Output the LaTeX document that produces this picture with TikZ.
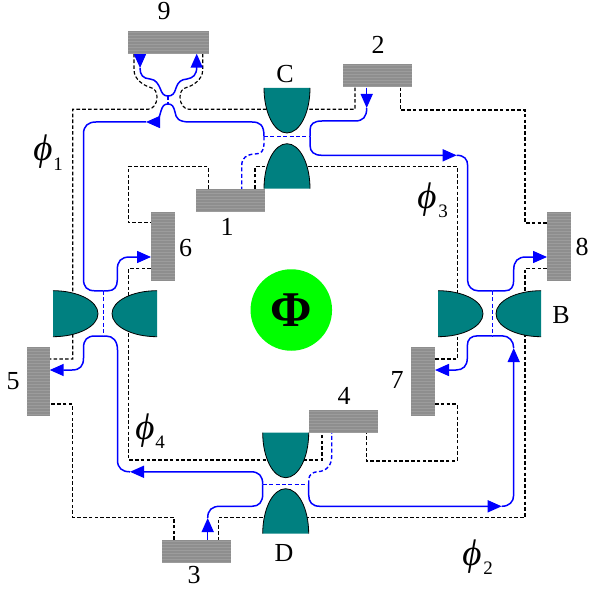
\documentclass[tikz,border=0pt]{standalone}
\usepackage{fontspec}
\setmainfont{Liberation Serif}
\usetikzlibrary{arrows.meta}
\definecolor{tealc}{HTML}{008080}
\definecolor{bluec}{HTML}{0000FF}
\definecolor{grayb}{HTML}{8E8E8E}
\definecolor{grays}{HTML}{9C9C9C}
\tikzset{
  ctrlline/.style={black,line width=1.15pt,dash pattern=on 3.6pt off 2.2pt},
  guide/.style={bluec,line width=1.5pt},
  guidedash/.style={bluec,line width=1.4pt,dash pattern=on 4pt off 2.4pt},
  guidearrow/.style={guide,-{Triangle[length=14pt,width=12pt]}},
  stripebox/.style={draw=none,fill=grayb,inner sep=0pt,outer sep=0pt,
    path picture={\foreach \k in {1.5,4.5,...,70.5}{
      \draw[grays,line width=1pt] ([yshift=-\k pt]path picture bounding box.north west) -- ([yshift=-\k pt]path picture bounding box.north east);}}},
  hbox/.style={stripebox,minimum width=69pt,minimum height=23pt},
  vbox/.style={stripebox,minimum width=23.5pt,minimum height=69pt},
  lab/.style={inner sep=0pt,font=\fontsize{26}{26}\selectfont},
  phisym/.style={inner sep=0pt,font=\fontsize{37}{37}\selectfont\itshape},
  phisub/.style={inner sep=0pt,font=\fontsize{19}{19}\selectfont},
  bowl/.pic={
    \fill[tealc] (-23,0) .. controls (-23,25) and (-12.7,45) .. (0,45) .. controls (12.7,45) and (23,25) .. (23,0) -- cycle;
    \draw[black,line width=0.8pt] (-23,0) .. controls (-23,25) and (-12.7,45) .. (0,45) .. controls (12.7,45) and (23,25) .. (23,0);
  }
}
\begin{document}
\begin{tikzpicture}[x=1pt,y=-1pt]
\useasboundingbox (0,0) rectangle (589,593);

% control lines (beneath the teal electrodes)
\coordinate (p9a) at (134,53.7);
\coordinate (p9b) at (202.7,53.7);
\coordinate (p2a) at (355,87.7);
\coordinate (p2b) at (400.3,87.7);
\coordinate (p8a) at (547,223);
\coordinate (p8b) at (547,268.3);
\coordinate (p1a) at (208.3,189);
\coordinate (p1b) at (255,189);
\coordinate (p6a) at (151,222.7);
\coordinate (p6b) at (151,268.3);
\coordinate (p5a) at (49.7,359);
\coordinate (p5b) at (49.7,404);
\coordinate (p7a) at (435,359);
\coordinate (p7b) at (435,404);
\coordinate (p4a) at (322,432.7);
\coordinate (p4b) at (366.5,432.7);
\coordinate (p3a) at (174,540);
\coordinate (p3b) at (218.3,540);

\draw[ctrlline] (p9a) -- (134,70) .. controls (134,80) and (145,86) .. (150,87.3) .. controls (155,88.5) and (157,92) .. (157,97) .. controls (157,104) and (153,109.3) .. (148,109.3) -- (72.8,109.3) -- (72.8,359) -- (p5a);
\draw[ctrlline] (p9b) -- (202.7,70) .. controls (202.7,80) and (192,86) .. (187,87.3) .. controls (182,88.5) and (180,92) .. (180,97) .. controls (180,104) and (184,109.3) .. (189,109.3) -- (355,109.3) -- (p2a);
\draw[ctrlline] (p2b) -- (400.3,110) -- (525,110) -- (525,223) -- (p8a);
\draw[ctrlline] (p8b) -- (525,268.3) -- (525,517.7) -- (218.3,517.7) -- (p3b);
\draw[ctrlline] (p3a) -- (174,517.3) -- (72.5,517.3) -- (72.5,404) -- (p5b);
\draw[ctrlline] (p1a) -- (208.3,166.7) -- (128.3,166.7) -- (128.3,222.7) -- (p6a);
\draw[ctrlline] (p1b) -- (255,166.7) -- (457.2,166.7) -- (457.2,359) -- (p7a);
\draw[ctrlline] (p7b) -- (457.2,404) -- (457.2,461) -- (366.5,461) -- (p4b);
\draw[ctrlline] (p6b) -- (128.6,268.3) -- (128.6,460) -- (322,460) -- (p4a);

% electrodes
\pic at (287,88) {bowl};
\pic[rotate=180] at (287,188.7) {bowl};
\pic at (285.7,432.7) {bowl};
\pic[rotate=180] at (285.7,533.7) {bowl};
\pic[rotate=90] at (53,313.7) {bowl};
\pic[rotate=-90] at (157,313.7) {bowl};
\pic[rotate=90] at (438,313.7) {bowl};
\pic[rotate=-90] at (541,313.7) {bowl};

% couplers
\coordinate (cL) at (264,136.4);
\coordinate (cR) at (310,136.4);
\coordinate (dL) at (262.7,484.3);
\coordinate (dR) at (308.7,484.3);
\coordinate (aT) at (103.3,290.8);
\coordinate (aB) at (103.3,336);
\coordinate (bT) at (492.7,290.8);
\coordinate (bB) at (492.7,335.8);
\coordinate (xT) at (168,96);
\coordinate (xB) at (168,104);
\draw[guidedash] (cL) -- (cR);
\draw[guidedash] (dL) -- (dR);
\draw[guidedash] (aT) -- (aB);
\draw[guidedash] (bT) -- (bB);
\draw[guidedash] (xT) -- (xB);

% dashed guides
\coordinate (p1c) at (241.7,189);
\coordinate (p4c) at (331.7,432.7);
\draw[guidedash] (cL) -- (264,144) .. controls (264,151) and (261,154) .. (255,154) .. controls (246,154.5) and (241.7,158) .. (241.7,166) -- (p1c);
\draw[guidedash] (dR) -- (308.7,479) .. controls (309.5,474) and (313,472) .. (318,471.7) .. controls (327,471) and (331.7,465) .. (331.7,456) -- (p4c);

% solid guides
\coordinate (p9c) at (140,53.7);
\coordinate (p9d) at (196.7,53.7);
\coordinate (t9c) at (140,68);
\coordinate (t9d) at (196.7,67);
\draw[guidearrow] (p9c) -- (t9c);
\draw[guidearrow] (t9d) -- (p9d);
\draw[guide] (t9c) .. controls (140,75) and (143,78.5) .. (150,79) .. controls (156,79.5) and (158,84) .. (160,88) .. controls (162,94) and (164,96) .. (xT) .. controls (172,96) and (174.5,94) .. (176,88) .. controls (178,82) and (181,79.5) .. (187,79) .. controls (193,78) and (196.7,75) .. (t9d);

\coordinate (tA) at (146,122);
\draw[guidearrow] (xB) .. controls (164,104) and (162.5,106) .. (161,111) .. controls (159.5,118) and (156,122) .. (tA);
\draw[guide] (xB) .. controls (172,104) and (173.5,106) .. (175,112) .. controls (176,118) and (178,122) .. (190,122) -- (252,122) .. controls (260,122) and (264,125) .. (cL);
\coordinate (p6c) at (151,257);
\draw[guide] (tA) -- (96,122) .. controls (88,122) and (83.5,126) .. (83.5,134) -- (83.5,279) .. controls (83.5,287) and (87,290.8) .. (95,290.8) -- (aT);
\draw[guidearrow] (aT) -- (108,290.8) .. controls (114,290.8) and (117.3,287) .. (117.3,280) -- (117.3,270) .. controls (117.3,261) and (121,257) .. (130,257) -- (p6c);

\coordinate (p5c) at (49.7,370);
\draw[guidearrow] (aB) -- (95,336) .. controls (87,336) and (83.5,340) .. (83.5,348) -- (83.5,358) .. controls (83.5,366) and (80,370) .. (72,370) -- (p5c);

\coordinate (tD) at (130,471.8);
\draw[guidearrow] (dL) .. controls (262.7,476) and (259,471.8) .. (251,471.8) -- (tD);
\draw[guide] (tD) .. controls (122,471.8) and (117.5,468) .. (117.5,460) -- (117.5,350) .. controls (117.5,341) and (113,336) .. (106,336) -- (aB);

\coordinate (p3c) at (207.7,540);
\coordinate (t3c) at (207.7,518);
\draw[guidearrow] (p3c) -- (t3c);
\draw[guide] (dL) -- (262.7,494) .. controls (262.7,502) and (259,506.3) .. (252,506.3) -- (220,506.3) .. controls (212,506.3) and (207.7,510) .. (t3c);

\coordinate (tE) at (501.7,506.3);
\coordinate (tF) at (513.7,348);
\draw[guidearrow] (dR) -- (308.7,495) .. controls (308.7,502) and (312,506.3) .. (320,506.3) -- (tE);
\draw[guidearrow] (tE) .. controls (509,506.3) and (513.7,502) .. (513.7,495) -- (tF);
\draw[guide] (tF) .. controls (513.7,341) and (509,335.8) .. (502,335.8) -- (bB);

\coordinate (p7c) at (435,370);
\draw[guidearrow] (bB) -- (478,335.8) .. controls (471,335.8) and (467.3,339) .. (467.3,346) -- (467.3,358) .. controls (467.3,366) and (463,370) .. (456,370) -- (p7c);

\coordinate (tG) at (456.7,155.3);
\draw[guide] (bT) -- (478,290.8) .. controls (472,290.8) and (467.7,286) .. (467.7,281) -- (467.7,166) .. controls (467.7,159) and (464,155.3) .. (tG);
\draw[guidearrow] (cR) -- (310,145) .. controls (310,152) and (314,155.3) .. (322,155.3) -- (tG);

\coordinate (p2c) at (366.7,87.7);
\coordinate (t2c) at (366.7,108);
\draw[guidearrow] (p2c) -- (t2c);
\draw[guide] (cR) -- (310,130) .. controls (310,124) and (314,121) .. (322,121) -- (355,121) .. controls (363,121) and (366.7,117) .. (t2c);

\coordinate (p8c) at (547,257);
\draw[guidearrow] (bT) -- (505,290.8) .. controls (511,290.8) and (513.7,287) .. (513.7,280) -- (513.7,270) .. controls (513.7,261) and (518,257) .. (526,257) -- (p8c);

% boxes
\node[stripebox,minimum width=80.7pt,minimum height=22.7pt] (r9) at (168.3,42.3) {};
\node[hbox] (r1) at (230.4,200.9) {};
\node[hbox] (r2) at (377.5,75.9) {};
\node[hbox] (r4) at (343.5,421.4) {};
\node[hbox] (r3) at (196.5,551.4) {};
\node[vbox] (r6) at (163,246.4) {};
\node[vbox] (r5) at (38.4,381.4) {};
\node[vbox] (r8) at (559,246.4) {};
\node[vbox] (r7) at (423,381.4) {};

% central flux
\node[circle,fill=green,inner sep=0pt,minimum size=81.5pt,font=\fontsize{50}{50}\selectfont\bfseries] (flux) at (291.3,310) {Φ};

% labels
\node[lab] (l9) at (164,11) {9};
\node[lab] (lC) at (285,74) {C};
\node[lab] (l2) at (378,45) {2};
\node[lab] (l1) at (227,227) {1};
\node[lab] (l6) at (185.7,248) {6};
\node[lab] (l5) at (13,381) {5};
\node[lab] (l8) at (582,247) {8};
\node[lab] (l7) at (397,380) {7};
\node[lab] (lB) at (561,315) {B};
\node[lab] (l4) at (344,396) {4};
\node[lab] (lD) at (284,553) {D};
\node[lab] (l3) at (194,575) {3};

\node[phisym] (f1) at (43,152) {ϕ};
\node[phisub] (s1) at (58,164) {1};
\node[phisym] (f3) at (427,200) {ϕ};
\node[phisub] (s3) at (443,211) {3};
\node[phisym] (f4) at (145,431) {ϕ};
\node[phisub] (s4) at (160,442) {4};
\node[phisym] (f2) at (472,557) {ϕ};
\node[phisub] (s2) at (488,568) {2};
\end{tikzpicture}
\end{document}
